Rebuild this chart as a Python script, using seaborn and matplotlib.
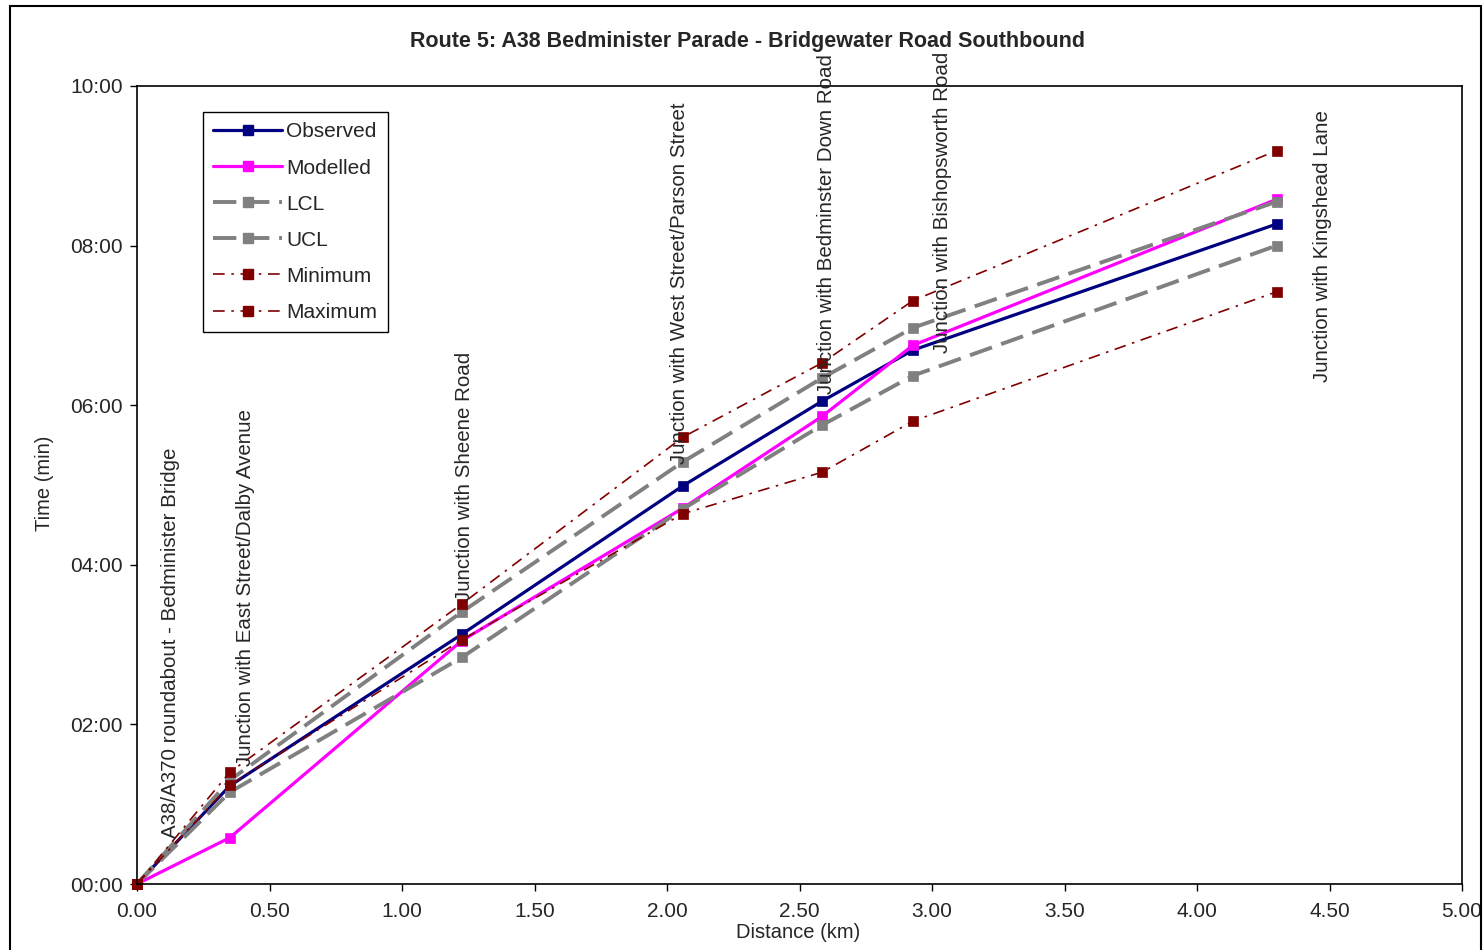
import matplotlib
matplotlib.use("Agg")
import matplotlib.pyplot as plt
from matplotlib.patches import Rectangle
from matplotlib.ticker import FuncFormatter, MultipleLocator
from matplotlib.lines import Line2D
import seaborn as sns
import pandas as pd
import numpy as np

# distance along route (km) and journey times (minutes)
distance = [0.0, 0.35, 1.226, 2.06, 2.585, 2.928, 4.30]
observed = [0.0, 1.23, 3.13, 4.99, 6.05, 6.69, 8.27]
modelled = [0.0, 0.58, 3.05, 4.71, 5.86, 6.75, 8.58]
lcl = [0.0, 1.15, 2.84, 4.70, 5.75, 6.37, 8.00]
ucl = [0.0, 1.30, 3.41, 5.29, 6.34, 6.97, 8.55]
minimum = [0.0, 1.24, 3.06, 4.64, 5.16, 5.80, 7.42]
maximum = [0.0, 1.40, 3.51, 5.60, 6.53, 7.31, 9.19]

junctions = [
    "A38/A370 roundabout - Bedminister Bridge",
    "Junction with East Street/Dalby Avenue",
    "Junction with Sheene Road",
    "Junction with West Street/Parson Street",
    "Junction with Bedminster Down Road",
    "Junction with Bishopsworth Road",
    "Junction with Kingshead Lane",
]
# label offsets from the observed point, in pixels
label_offsets = [(33, 46), (16, 20), (3, 33), (-3, 22), (4, 7), (30, -3), (46, -158)]

title = "Route 5: A38 Bedminister Parade - Bridgewater Road Southbound"

df = pd.DataFrame({
    "distance": distance * 6,
    "time": observed + modelled + lcl + ucl + minimum + maximum,
    "series": (["Observed"] * 7 + ["Modelled"] * 7 + ["LCL"] * 7 + ["UCL"] * 7
               + ["Minimum"] * 7 + ["Maximum"] * 7),
})

styles = {
    "Observed": dict(color="#000080", lw=2.3, ls="-", ms=7.5),
    "Modelled": dict(color="#FF00FF", lw=2.3, ls="-", ms=7.5),
    "LCL": dict(color="#808080", lw=2.8, ls=(0, (6, 2.5)), ms=7.5),
    "UCL": dict(color="#808080", lw=2.8, ls=(0, (6, 2.5)), ms=7.5),
    "Minimum": dict(color="#800000", lw=1.2, ls=(0, (7, 4, 1.5, 4)), ms=7.5),
    "Maximum": dict(color="#800000", lw=1.2, ls=(0, (7, 4, 1.5, 4)), ms=7.5),
}

sns.set_style("white")
plt.rcParams["font.family"] = ["Liberation Sans", "DejaVu Sans"]

fig = plt.figure(figsize=(14.83, 9.5), dpi=100, facecolor="white")
ax = fig.add_axes([137 / 1483, 66 / 950, 1325 / 1483, 798 / 950])

handles = []
for name, st in styles.items():
    sub = df[df["series"] == name]
    sns.lineplot(data=sub, x="distance", y="time", ax=ax, color=st["color"],
                 linewidth=st["lw"], linestyle=st["ls"], marker="s",
                 markersize=st["ms"], markeredgecolor=st["color"],
                 markerfacecolor=st["color"], markeredgewidth=0.5,
                 clip_on=False, label=name)
    handles.append(Line2D([], [], color=st["color"], lw=st["lw"], ls=st["ls"],
                          marker="s", ms=st["ms"], mec=st["color"], mfc=st["color"]))

for i, text in enumerate(junctions):
    ax.annotate(text, xy=(distance[i], observed[i]), xytext=label_offsets[i],
                textcoords="offset pixels", rotation=90, ha="center", va="bottom",
                fontsize=14.8, annotation_clip=False)

ax.set_xlim(0, 5)
ax.set_ylim(0, 10)
ax.xaxis.set_major_locator(MultipleLocator(0.5))
ax.yaxis.set_major_locator(MultipleLocator(2))
ax.xaxis.set_major_formatter(FuncFormatter(lambda v, p: f"{v:.2f}"))
ax.yaxis.set_major_formatter(FuncFormatter(
    lambda v, p: f"{int(v):02d}:{int(round((v - int(v)) * 60)):02d}"))
ax.tick_params(axis="both", which="major", direction="out", length=5, width=1,
               labelsize=15, color="black", bottom=True, left=True)
ax.tick_params(axis="x", pad=8)
ax.tick_params(axis="y", pad=5)
for sp in ax.spines.values():
    sp.set_color("black")
    sp.set_linewidth(1.2)
ax.set_xlabel("")
ax.set_ylabel("")

leg = ax.legend(handles, list(styles.keys()), loc="upper left",
                bbox_to_anchor=(66 / 1325, 772 / 798), fontsize=15,
                handlelength=3.3, handletextpad=0.2, labelspacing=0.82,
                borderpad=0.5, borderaxespad=0, fancybox=False, framealpha=1)
leg.get_frame().set_edgecolor("black")
leg.get_frame().set_linewidth(1.0)

fig.text(748 / 1483, 1 - 42 / 950, title, ha="center", va="center",
         fontsize=15.5, fontweight="bold")
fig.text(798 / 1483, 1 - 933 / 950, "Distance (km)", ha="center", va="center",
         fontsize=14.5)
fig.text(45 / 1483, 1 - 483 / 950, "Time (min)", ha="center", va="center",
         rotation=90, fontsize=14.5)

fig.patches.append(Rectangle((10 / 1483, -0.05), 1471 / 1483, 0.05 + 1 - 6 / 950,
                             transform=fig.transFigure, fill=False,
                             edgecolor="black", linewidth=1.5))

fig.savefig("out.png", dpi=100)
